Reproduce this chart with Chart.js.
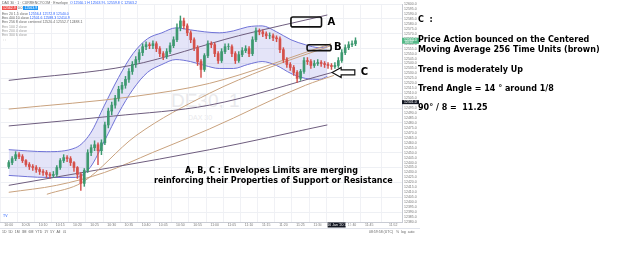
<!DOCTYPE html>
<html>
<head>
<meta charset="utf-8">
<script src="https://cdn.jsdelivr.net/npm/chart.js@4.4.0/dist/chart.umd.min.js"></script>
<style>
  html, body { margin: 0; padding: 0; background: #fff; }
  body { width: 625px; height: 263px; position: relative; overflow: hidden; font-family: "DejaVu Sans", sans-serif; }
  #wrap { position: absolute; left: 0; top: 0; width: 420px; height: 228px; }
  #wm { position: absolute; left: 171px; top: 90px; font-family: "Liberation Sans", sans-serif; font-size: 19px; color: #e9e9ec; }
  #wm2 { position: absolute; left: 188px; top: 114px; font-family: "Liberation Sans", sans-serif; font-size: 7px; color: #e9e9ec; }
  .note { position: absolute; font-weight: bold; font-size: 8px; color: #000; white-space: nowrap; }
  .tiny { position: absolute; font-family: "Liberation Sans", sans-serif; font-size: 3.5px; color: #666; white-space: nowrap; }
  #toolbar { position: absolute; left: 0; top: 228px; width: 420px; height: 7px; border-top: 1px solid #e0e3eb; }
</style>
</head>
<body>
<div id="wm">DE30, 1</div>
<div id="wm2">DAX 30</div>
<div id="wrap"><canvas id="myChart" width="420" height="228"></canvas></div>
<div id="toolbar"></div>

<div class="tiny" style="left:2px;top:1px">DAX 30 · 1 · CURRENCYCOM · Envelope&nbsp;&nbsp;<span style="color:#2962ff">O 12560.1 H 12563.9 L 12559.8 C 12563.2</span></div>
<div class="tiny" style="left:2px;top:6px"><span style="background:#ef5350;color:#fff;padding:0 1px">12562.9</span> 0.0 <span style="background:#2196f3;color:#fff;padding:0 1px">12563.9</span></div>
<div class="tiny" style="left:2px;top:12px">Env 20 1.5 close&nbsp;<span style="color:#2962ff">12556.4 12572.8 12540.0</span></div>
<div class="tiny" style="left:2px;top:16px">Env 400 10 close&nbsp;<span style="color:#2962ff">12501.6 12588.3 12414.9</span></div>
<div class="tiny" style="left:2px;top:20px">Env 256 8 close centered 12520.4 12552.7 12488.1</div>
<div class="tiny" style="left:2px;top:25px;color:#999">Env 100 2 close</div>
<div class="tiny" style="left:2px;top:29px;color:#999">Env 200 4 close</div>
<div class="tiny" style="left:2px;top:33px;color:#999">Env 300 6 close</div>
<div class="tiny" style="left:3px;top:38px;color:#999">□</div>
<div class="tiny" style="left:3px;top:214px;color:#2962ff">TV</div>
<div class="tiny" style="left:2px;top:230px">1D&nbsp; 5D&nbsp; 1M&nbsp; 3M&nbsp; 6M&nbsp; YTD&nbsp; 1Y&nbsp; 5Y&nbsp; All&nbsp;&nbsp; ⊡</div>
<div class="tiny" style="left:369px;top:230px">08:59:58 (UTC)&nbsp;&nbsp; %&nbsp; log&nbsp; auto</div>

<div class="note" style="left:185px;top:166px">A, B, C : Envelopes Limits are merging</div>
<div class="note" style="left:154px;top:176px">reinforcing their Properties of Support or Resistance</div>

<div class="note" style="left:418px;top:15px">C&nbsp; :</div>
<div class="note" style="left:418px;top:35px">Price Action bounced on the Centered</div>
<div class="note" style="left:418px;top:45px">Moving Average 256 Time Units (brown)</div>
<div class="note" style="left:418px;top:65px">Trend is moderately Up</div>
<div class="note" style="left:418px;top:84px">Trend Angle = 14 ° around 1/8</div>
<div class="note" style="left:418px;top:103px">90° / 8 =&nbsp; 11.25</div>

<script>
// 1 minute candles, index = minutes since 10:00
const closes = [12440,12444,12448,12446,12442,12438,12436,12435,12433,12431,
  12430,12428,12427,12428,12435,12442,12445,12444,12440,12435,
  12428,12419,12432,12450,12455,12458,12452,12460,12478,12492,
  12498,12505,12514,12518,12524,12532,12539,12544,12551,12557,
  12559,12558,12560,12555,12550,12547,12552,12558,12564,12576,
  12583,12578,12571,12564,12556,12542,12534,12548,12560,12559,
  12550,12543,12552,12557,12557,12550,12543,12549,12553,12555,
  12550,12564,12573,12572,12570,12568,12568,12566,12565,12554,
  12544,12539,12536,12531,12525,12532,12543,12542,12538,12540,
  12541,12540,12539,12538,12537,12538,12543,12551,12556,12559,
  12560,12563]
const highs = [12442,12446,12451,12450,12448,12443,12440,12438,12437,12435,
  12433,12432,12430,12431,12437,12444,12448,12447,12446,12441,
  12436,12430,12434,12453,12458,12462,12460,12463,12481,12495,
  12501,12508,12517,12521,12527,12535,12542,12547,12554,12560,
  12562,12561,12563,12562,12557,12552,12555,12561,12567,12580,
  12588,12586,12580,12573,12566,12558,12544,12550,12563,12562,
  12561,12552,12555,12560,12560,12559,12552,12552,12556,12558,
  12557,12567,12576,12575,12574,12572,12571,12570,12568,12567,
  12556,12546,12541,12538,12533,12534,12546,12546,12544,12543,
  12544,12543,12542,12541,12540,12541,12546,12554,12559,12562,
  12563,12566]
const lows = [12434,12438,12442,12444,12440,12436,12433,12432,12430,12428,
  12427,12425,12424,12425,12426,12433,12440,12441,12437,12431,
  12424,12412,12416,12430,12447,12452,12438,12448,12458,12475,
  12488,12495,12502,12510,12515,12521,12529,12536,12541,12548,
  12554,12555,12555,12552,12547,12544,12545,12550,12556,12562,
  12573,12575,12568,12561,12553,12538,12526,12532,12546,12556,
  12547,12540,12541,12550,12554,12547,12540,12541,12547,12551,
  12547,12548,12562,12569,12567,12565,12565,12563,12562,12551,
  12541,12536,12533,12528,12521,12523,12530,12539,12535,12536,
  12538,12537,12536,12535,12534,12535,12536,12541,12549,12554,
  12557,12558]

// short envelope (knots: minute index)
const envX = [0, 11.1, 19.5, 23.7, 27.9, 32, 36.2, 40.4, 44.6, 48.7, 52.9, 57.1, 61.3, 65.5, 69.6, 73.8, 78, 82.2, 86.4, 90.5, 92.8]
const envUpper = [12453,12451,12455,12469,12498,12526,12550,12565,12571,12576,12574,12572,12571,12573,12577,12578,12572,12564,12559,12556,12557]
const envLower = [12427,12425,12425,12435,12462,12490,12514,12531,12539,12544,12542,12538,12535,12535,12539,12542,12538,12530,12525,12524,12527]

// long envelopes / moving averages, [minute, price]
const longA = [[0,12523],[35.4,12538],[66.9,12568],[92.8,12589]]
const longB = [[0,12494],[37,12507],[58.5,12520],[93.9,12560]]
const longC = [[0,12477],[30.6,12487],[58.5,12498],[94.2,12531]]
const longD = [[11.1,12408],[21.4,12420],[37,12467],[58.5,12510],[75.2,12535],[93.9,12558]]
const longE = [[0,12417],[58.5,12453],[92.8,12478]]
const longF = [[0,12410],[13.9,12417],[27.9,12430],[41.8,12450],[58.5,12474],[86.4,12518],[94.7,12528]]

const yTicks = {min: 12380, max: 12600, step: 5}
const lastPrice = 12563
const crossPrice = 12501
const crossTime = 95.5

// drawing objects on the chart (minute index, price)
const boxA = [82.2, 91.1, 12587, 12577]
const boxB = [86.9, 93.9, 12559, 12553]
const arrowC = [94.2, 100.8, 12531]

const upColor = '#3d9970'
const downColor = '#d5504a'

function timeLabel(v) {
  const m = 600 + v
  return String(Math.floor(m / 60)).padStart(2, '0') + ':' + String(m % 60).padStart(2, '0')
}

const candles = closes.map((c, i) => ({x: i, y: [i ? closes[i - 1] : 12436, c]}))
const wicks = closes.map((c, i) => ({x: i, y: [lows[i], highs[i]]}))
const candleColor = ctx => {
  const r = candles[ctx.dataIndex]
  return r && r.y[1] >= r.y[0] ? upColor : downColor
}
const pts = (xs, ys) => xs.map((x, i) => ({x: x, y: ys[i]}))
const pairs = arr => arr.map(p => ({x: p[0], y: p[1]}))

function lineSet(data, color, width) {
  return {type: 'line', data: data, borderColor: color, borderWidth: width || 1, pointRadius: 0,
    cubicInterpolationMode: 'monotone', fill: false, order: 5}
}

const overlay = {
  id: 'overlay',
  afterDraw(chart) {
    const c = chart.ctx, x = chart.scales.x, y = chart.scales.y
    c.save()
    // boxes A and B
    c.strokeStyle = '#111'
    c.lineWidth = 1.6
    ;[boxA, boxB].forEach(b => {
      const x0 = x.getPixelForValue(b[0]), x1 = x.getPixelForValue(b[1])
      const y0 = y.getPixelForValue(b[2]), y1 = y.getPixelForValue(b[3])
      c.beginPath()
      c.roundRect(x0, y0, x1 - x0, y1 - y0, 2)
      c.stroke()
    })
    // arrow C
    const tx = x.getPixelForValue(arrowC[0]), ex = x.getPixelForValue(arrowC[1]), ay = y.getPixelForValue(arrowC[2])
    c.beginPath()
    c.moveTo(tx, ay)
    c.lineTo(tx + 9, ay - 5)
    c.lineTo(tx + 9, ay - 2.5)
    c.lineTo(ex, ay - 2.5)
    c.lineTo(ex, ay + 2.5)
    c.lineTo(tx + 9, ay + 2.5)
    c.lineTo(tx + 9, ay + 5)
    c.closePath()
    c.fillStyle = '#fff'
    c.fill()
    c.lineWidth = 1.2
    c.stroke()
    // labels
    c.fillStyle = '#000'
    c.font = 'bold 10px "DejaVu Sans"'
    c.textBaseline = 'middle'
    c.fillText('A', x.getPixelForValue(boxA[1]) + 6, y.getPixelForValue((boxA[2] + boxA[3]) / 2))
    c.fillText('B', x.getPixelForValue(boxB[1]) + 3, y.getPixelForValue((boxB[2] + boxB[3]) / 2))
    c.fillText('C', ex + 6, ay)
    // price / time labels on axes
    c.font = '3.5px "Liberation Sans"'
    c.textAlign = 'left'
    const lp = y.getPixelForValue(lastPrice)
    c.fillStyle = '#53b987'
    c.fillRect(y.left, lp - 3, 17, 6)
    c.fillStyle = '#fff'
    c.fillText(lastPrice.toFixed(1), y.left + 2, lp - 0.7)
    c.fillText('00:47', y.left + 3, lp + 1.7)
    const cp = y.getPixelForValue(crossPrice)
    c.fillStyle = '#131722'
    c.fillRect(y.left, cp - 2, 17, 4)
    c.fillStyle = '#fff'
    c.fillText(crossPrice.toFixed(1), y.left + 2, cp)
    const ctp = x.getPixelForValue(crossTime)
    c.fillStyle = '#131722'
    c.fillRect(ctp - 9, x.top + 0.5, 18, 5)
    c.fillStyle = '#fff'
    c.textAlign = 'center'
    c.fillText('Thu 16 Jan \'20 11:35', ctp, x.top + 3)
    c.restore()
  }
}

let ctx = document.getElementById('myChart').getContext('2d')
let chart = new Chart(ctx, {
  type: 'bar',
  data: {
    datasets: [
      {data: candles, backgroundColor: candleColor, barThickness: 2, grouped: false, order: 0},
      {data: wicks, backgroundColor: candleColor, barThickness: 0.8, grouped: false, order: 1},
      lineSet(pairs(longA), '#6e5d7e'),
      lineSet(pairs(longB), '#c9a27e'),
      lineSet(pairs(longC), '#6e5d7e'),
      lineSet(pairs(longD), '#c9a27e'),
      lineSet(pairs(longE), '#6e5d7e'),
      lineSet(pairs(longF), '#c9a27e'),
      {type: 'line', data: pts(envX, envUpper), borderColor: '#6f72d6', borderWidth: 1, pointRadius: 0,
        cubicInterpolationMode: 'monotone', fill: '+1', backgroundColor: 'rgba(120,122,222,0.2)', order: 8},
      {type: 'line', data: pts(envX, envLower), borderColor: '#6f72d6', borderWidth: 1, pointRadius: 0,
        cubicInterpolationMode: 'monotone', fill: false, order: 9}
    ]
  },
  options: {
    responsive: false,
    animation: false,
    layout: {padding: 0},
    plugins: {legend: {display: false}, tooltip: {enabled: false}},
    scales: {
      x: {
        type: 'linear', min: 0, max: 112,
        grid: {color: '#f0f1f5', drawTicks: false},
        border: {color: '#c8cbd3'},
        ticks: {stepSize: 5, autoSkip: false, maxRotation: 0, padding: 1, color: '#777',
          font: {size: 3.5, family: 'Liberation Sans'}, callback: v => timeLabel(v)},
        afterFit: s => { s.height = 6 }
      },
      y: {
        position: 'right', min: yTicks.min, max: yTicks.max,
        grid: {color: ctx => ctx.tick && ctx.tick.value % 15 === 0 ? '#eef0f4' : 'rgba(0,0,0,0)', drawTicks: false},
        border: {color: '#c8cbd3'},
        ticks: {stepSize: yTicks.step, autoSkip: false, padding: 2, color: '#777',
          font: {size: 3.5, family: 'Liberation Sans'}, callback: v => v.toFixed(1)},
        afterFit: s => { s.width = 18 }
      }
    }
  },
  plugins: [overlay]
})
</script>
</body>
</html>
